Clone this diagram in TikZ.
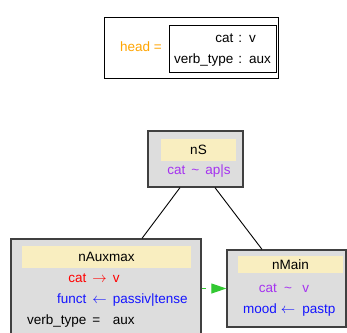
\documentclass[tikz,border=0pt]{standalone}
\usepackage{fontspec}
\setmainfont{Liberation Sans}
\usetikzlibrary{arrows.meta,calc}

\definecolor{fsgray}{RGB}{221,221,221}
\definecolor{fsborder}{RGB}{64,64,64}
\definecolor{fsyellow}{RGB}{249,238,192}
\definecolor{featpurple}{RGB}{165,50,240}
\definecolor{featred}{RGB}{255,0,0}
\definecolor{featblue}{RGB}{20,20,255}
\definecolor{headorange}{RGB}{255,165,0}
\definecolor{hintgreen}{RGB}{50,200,50}

\setlength{\tabcolsep}{0pt}
% one coloured feature row: colour, name, operator, value
\newcommand{\featrow}[4]{\color{#1}#2 & \color{#1}#3 & \color{#1}#4}

\begin{document}
\begin{tikzpicture}[x=1pt,y=-1pt,
    every node/.style={font=\fontsize{13.5}{21}\selectfont, inner sep=0pt},
    avmframe/.style={draw=black, fill=white, line width=0.9pt},
    fsbox/.style={draw=fsborder, fill=fsgray, line width=1.3pt},
    fshead/.style={fill=fsyellow},
    tree edge/.style={draw=black, line width=0.9pt},
    hint arrow/.style={draw=hintgreen, line width=1pt, dash pattern=on 4pt off 8pt,
        -{Triangle[length=15pt,width=10pt]}}]
    \useasboundingbox (0,0) rectangle (347,332);
    \clip (0,0) rectangle (347,332);

    % Head constraint
    \node[avmframe, minimum width=174pt, minimum height=61pt] (headframe) at (191,47.5) {};
    \node[text=headorange] (headlabel) at (141,47) {head =};
    \node[avmframe, minimum width=107pt, minimum height=47pt] (headavm) at (222.5,48.5)
        {\begin{tabular}{@{}r@{\hspace{5pt}:\hspace{7pt}}l@{}}
            cat & v\\
            verb\_type & aux
        \end{tabular}};

    % Root node
    \node[fsbox, minimum width=95pt, minimum height=56pt] (nS) at (195.5,159) {};
    \node[fshead, minimum width=75pt, minimum height=22pt] (nShead) at (198.5,150) {nS};
    \node[text=featpurple] (nSfeat) at (199,171) {cat\hspace{6pt}\textasciitilde\hspace{6pt}ap|s};

    % Daughters
    \node[fsbox, minimum width=190pt, minimum height=99pt] (nAuxmax) at (106,288.5) {};
    \node[fshead, minimum width=169pt, minimum height=22pt] (nAuxmaxhead) at (106.5,257) {nAuxmax};
    \node[anchor=west] (nAuxmaxfeat) at (27,299)
        {\begin{tabular}{@{}r@{\hspace{6pt}}l@{\hspace{6pt}}l@{}}
            \featrow{featred}{cat}{$\rightarrow$}{v}\\
            \featrow{featblue}{funct}{$\leftarrow$}{passiv|tense}\\
            \featrow{black}{verb\_type}{=}{aux}
        \end{tabular}};

    \node[fsbox, minimum width=119pt, minimum height=77pt] (nMain) at (286.5,288.5) {};
    \node[fshead, minimum width=105pt, minimum height=17pt] (nMainhead) at (290.5,264.5) {nMain};
    \node[anchor=west] (nMainfeat) at (243,299)
        {\begin{tabular}{@{}r@{\hspace{4pt}}c@{\hspace{7pt}}l@{}}
            \featrow{featpurple}{cat}{\textasciitilde}{v}\\
            \featrow{featblue}{mood}{$\leftarrow$}{pastp}
        \end{tabular}};

    % Edges
    \draw[tree edge] ($(nS.south)+(-15.5,0)$) -- ($(nAuxmax.north)+(36,0)$);
    \draw[tree edge] ($(nS.south)+(19.5,0)$) -- ($(nMain.north)+(-24.5,0)$);
    \draw[hint arrow] (nAuxmax.east) -- (nMain.west);
\end{tikzpicture}
\end{document}
